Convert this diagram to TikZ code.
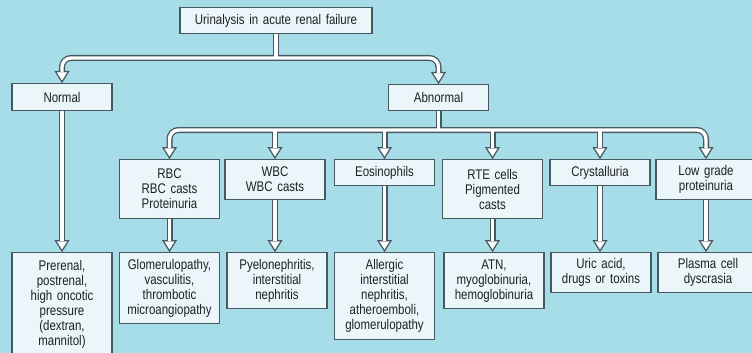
\documentclass[tikz,border=0pt]{standalone}
\usepackage{fontspec}
\setmainfont{Liberation Sans}[FakeStretch=0.82]
\usetikzlibrary{arrows.meta, backgrounds}
\definecolor{sky}{RGB}{166,221,233}
\definecolor{paper}{RGB}{234,246,250}
\definecolor{edge}{RGB}{72,88,96}
\definecolor{ink}{RGB}{30,32,34}

\tikzset{
    tile/.style={draw=edge, line width=1.3pt, fill=paper, text=ink,
        font=\fontsize{14}{15}\selectfont, text width=94pt, align=center,
        inner xsep=3pt, inner ysep=1pt, anchor=north, minimum height=#1},
    tile/.default=26pt,
    duct/.style 2 args={line width=#1, draw=#2},
    headend/.style n args={3}{-{Triangle[length=#1, width=#2, line width=0.2pt]}, shorten >=#3},
    headboth/.style n args={3}{{Triangle[length=#1, width=#2, line width=0.2pt]}-{Triangle[length=#1, width=#2, line width=0.2pt]},
        shorten <=#3, shorten >=#3}
}

\begin{document}
\begin{tikzpicture}[x=1pt, y=-1pt]
    \useasboundingbox (0,0) rectangle (752,353);

    % Top and first split
    \node[tile, text width=186pt] (top) at (276,7) {Urinalysis in acute renal failure};
    \node[tile=27pt] (normal) at (62,83) {Normal};
    \node[tile] (abnormal) at (438.5,84) {Abnormal};

    % Findings
    \node[tile=59pt] (rbc) at (169.5,159) {RBC\\RBC casts\\Proteinuria};
    \node[tile=40pt] (wbc) at (275,159) {WBC\\WBC casts};
    \node[tile] (eos) at (384.5,159) {Eosinophils};
    \node[tile=59pt] (rte) at (492.5,159) {RTE cells\\Pigmented\\casts};
    \node[tile] (cry) at (600,159) {Crystalluria};
    \node[tile=40pt] (low) at (706,159) {Low grade\\proteinuria};

    % Causes
    \node[tile=104pt] (pre) at (62,252) {Prerenal,\\postrenal,\\high oncotic\\pressure\\(dextran,\\mannitol)};
    \node[tile=71pt] (glom) at (169.5,252) {Glomerulopathy,\\vasculitis,\\thrombotic\\microangiopathy};
    \node[tile=56pt] (pyelo) at (277,252) {Pyelonephritis,\\interstitial\\nephritis};
    \node[tile=87pt] (allerg) at (384.5,252) {Allergic\\interstitial\\nephritis,\\atheroemboli,\\glomerulopathy};
    \node[tile=56pt] (atn) at (494,252) {ATN,\\myoglobinuria,\\hemoglobinuria};
    \node[tile=40pt] (uric) at (601,252) {Uric acid,\\drugs or toxins};
    \node[tile=40pt] (plasma) at (708,252) {Plasma cell\\dyscrasia};

    \coordinate (bar1) at (0,58);
    \coordinate (bar2) at (0,130);

    \begin{scope}[on background layer]
        \fill[sky] (0,0) rectangle (752,353);
        % hollow connectors: dark pass, then white pass
        \foreach \lw/\col/\len/\wid/\cut in {6pt/edge/12pt/15pt/0pt, 3.4pt/white/8pt/10pt/2.6pt} {
            \draw[duct={\lw}{\col}] (top.south) -- (top.south |- bar1);
            \draw[duct={\lw}{\col}, headboth={\len}{\wid}{\cut}, rounded corners=9pt]
                (normal.north) -- (normal.north |- bar1) -- (abnormal.north |- bar1) -- (abnormal.north);
            \draw[duct={\lw}{\col}] (abnormal.south) -- (abnormal.south |- bar2);
            \draw[duct={\lw}{\col}, headboth={\len}{\wid}{\cut}, rounded corners=9pt]
                (rbc.north) -- (rbc.north |- bar2) -- (low.north |- bar2) -- (low.north);
            \foreach \n in {wbc, eos, rte, cry}
                \draw[duct={\lw}{\col}, headend={\len}{\wid}{\cut}] (\n.north |- bar2) -- (\n.north);
            \foreach \a/\b in {normal/pre, rbc/glom, wbc/pyelo, eos/allerg, rte/atn, cry/uric, low/plasma}
                \draw[duct={\lw}{\col}, headend={\len}{\wid}{\cut}] (\a.south) -- (\a.south |- \b.north);
        }
    \end{scope}
\end{tikzpicture}
\end{document}
